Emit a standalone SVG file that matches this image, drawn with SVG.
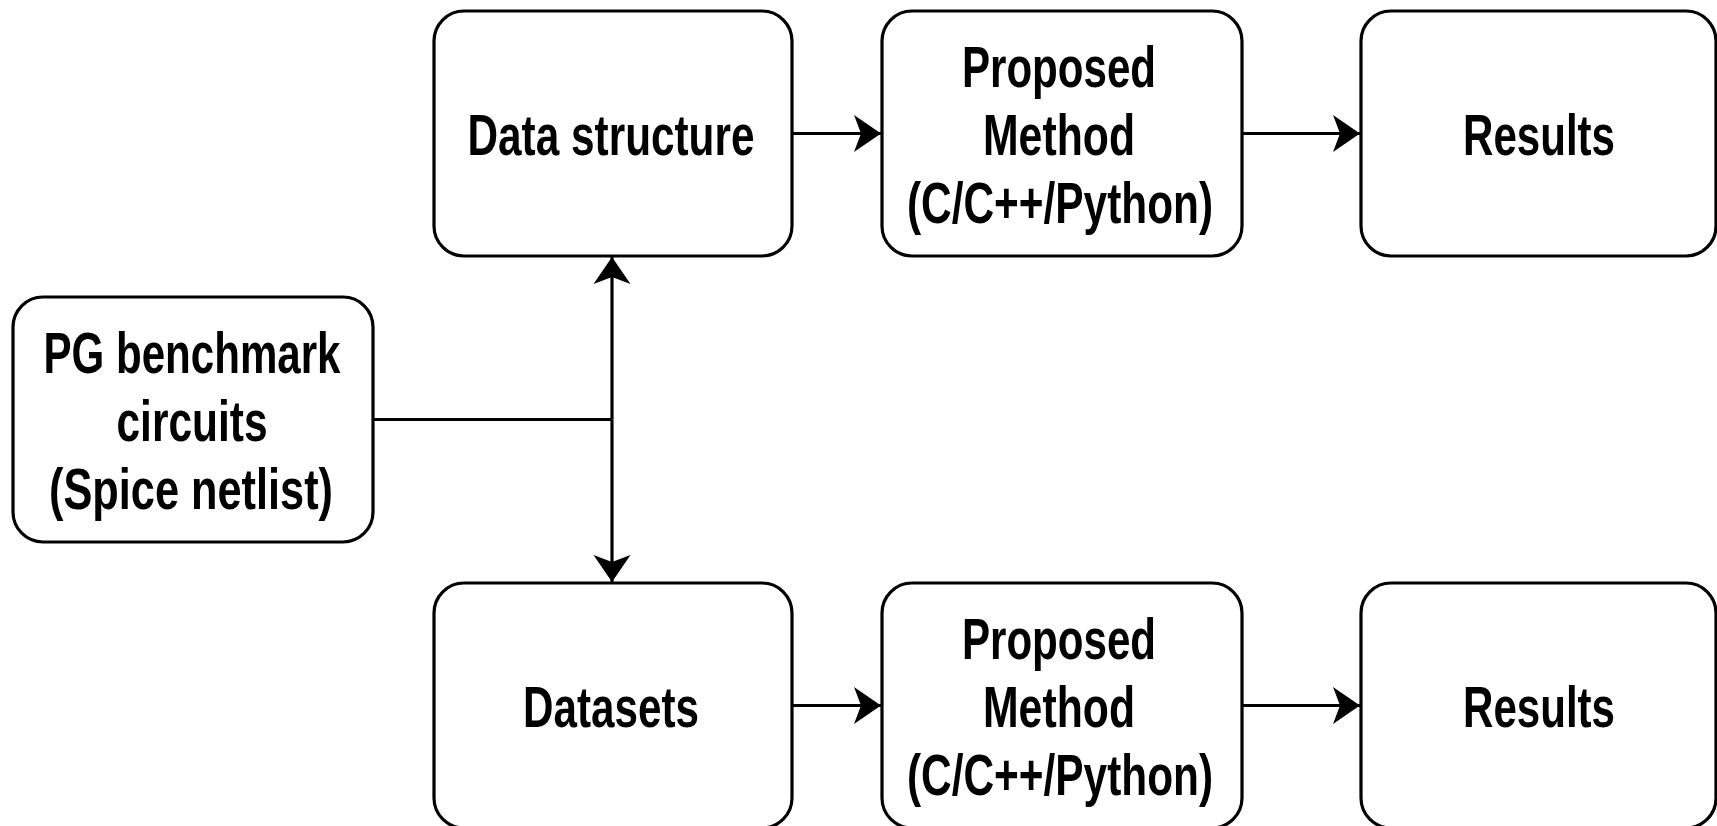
<svg xmlns="http://www.w3.org/2000/svg" width="1717" height="826" viewBox="0 0 1717 826">
<defs>
<style>
.box{fill:#fff;stroke:#000;stroke-width:3.2}
.t{font-family:"Liberation Sans",Arial,sans-serif;font-weight:bold;font-size:57px;text-anchor:middle;fill:#000}
.c{fill:none;stroke:#000;stroke-width:3.2}
</style>
<marker id="ah" markerUnits="userSpaceOnUse" markerWidth="30" markerHeight="38" viewBox="0 0 28 38" refX="27" refY="19" orient="auto">
<path d="M0,0.5 L27,19 L0,37.5 L7,19 Z" fill="#000"/>
</marker>
</defs>
<rect width="1717" height="826" fill="#fff"/>
<g id="connectors">
<path class="c" d="M373,419.5 H612"/>
<path class="c" d="M612,419.5 V257" marker-end="url(#ah)"/>
<path class="c" d="M612,419.5 V582" marker-end="url(#ah)"/>
<path class="c" d="M792,133.5 H881" marker-end="url(#ah)"/>
<path class="c" d="M1242,133.5 H1360" marker-end="url(#ah)"/>
<path class="c" d="M792,705.5 H881" marker-end="url(#ah)"/>
<path class="c" d="M1242,705.5 H1360" marker-end="url(#ah)"/>
</g>
<g id="pg"><rect class="box" x="13" y="297" width="360" height="245" rx="30"/>
<text class="t" x="192" y="373" textLength="297" lengthAdjust="spacingAndGlyphs">PG benchmark</text><text class="t" x="192" y="441" textLength="151" lengthAdjust="spacingAndGlyphs">circuits</text><text class="t" x="191" y="509" textLength="284" lengthAdjust="spacingAndGlyphs">(Spice netlist)</text></g>
<g id="ds"><rect class="box" x="434" y="11" width="358" height="245" rx="30"/>
<text class="t" x="611" y="155" textLength="287" lengthAdjust="spacingAndGlyphs">Data structure</text></g>
<g id="pm1"><rect class="box" x="882" y="11" width="360" height="245" rx="30"/>
<text class="t" x="1059" y="87" textLength="194" lengthAdjust="spacingAndGlyphs">Proposed</text><text class="t" x="1059" y="155" textLength="152" lengthAdjust="spacingAndGlyphs">Method</text><text class="t" x="1060" y="223" textLength="306" lengthAdjust="spacingAndGlyphs">(C/C++/Python)</text></g>
<g id="r1"><rect class="box" x="1361" y="11" width="355" height="245" rx="30"/>
<text class="t" x="1539" y="155" textLength="152" lengthAdjust="spacingAndGlyphs">Results</text></g>
<g id="dset"><rect class="box" x="434" y="583" width="358" height="245" rx="30"/>
<text class="t" x="611" y="727" textLength="176" lengthAdjust="spacingAndGlyphs">Datasets</text></g>
<g id="pm2"><rect class="box" x="882" y="583" width="360" height="245" rx="30"/>
<text class="t" x="1059" y="659" textLength="194" lengthAdjust="spacingAndGlyphs">Proposed</text><text class="t" x="1059" y="727" textLength="152" lengthAdjust="spacingAndGlyphs">Method</text><text class="t" x="1060" y="795" textLength="306" lengthAdjust="spacingAndGlyphs">(C/C++/Python)</text></g>
<g id="r2"><rect class="box" x="1361" y="583" width="355" height="245" rx="30"/>
<text class="t" x="1539" y="727" textLength="152" lengthAdjust="spacingAndGlyphs">Results</text></g>
</svg>
